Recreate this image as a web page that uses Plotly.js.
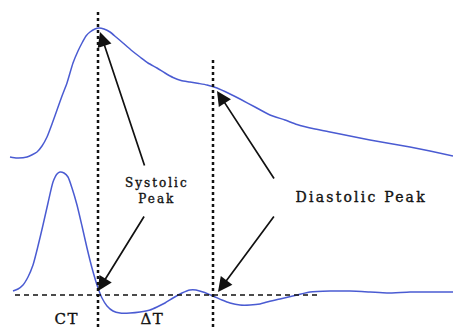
<!DOCTYPE html>
<html>
<head>
<meta charset="utf-8">
<script src="https://cdn.plot.ly/plotly-3.0.1.min.js"></script>
<style>html,body{margin:0;padding:0;background:#fff;}#chart{width:453px;height:328px;}</style>
</head>
<body>
<div id="chart"></div>
<script>
// Pulse waveform (upper) — time vs. screen-down amplitude
const pulseT = [10,17,27,37,42,47,52,57,62,67,73,78,82,86,90,95,99,104,110,116,123,131,140,148,157,165,173,181,190,199,207,217,230,240,255,270,285,297,315,330,350,370,387,410,430,453];
const pulseA = [157,158,157,152,146,137,124,110,96,83,63,51,43,36,32,29,28,29,32,37,43,50,57,63,68,73,77.5,80.5,82,83.5,85,88,94,99,107,115,120,124.5,129,132,136,140,143,147,151,156];
// Derivative waveform (lower)
const derivT = [13,18,23,28,33,38,43,48,53,57,60,64,68,72,77,82,87,92,98,102,107,113,120,130,140,150,157,165,173,182,190,196,203,213,222,230,240,250,260,267,280,297,310,330,350,370,387,410,430,453];
const derivA = [291,289,285,277,265,246,225,203,182,174,172,173,177,188,205,226,248,268,288,298,306,311,313,313,312,310,307,303,298,293,290,290,292,296,300,303,305,305,304,302,299,295,292,291,291,292,293,292,292,292];
const labels = ["Systolic<br>Peak", "Diastolic Peak", "CT", "ΔT"];

const lineStyle = {color: '#4a5bd2', width: 1.5, shape: 'spline', smoothing: 0.6};
const traces = [
  {x: pulseT, y: pulseA, mode: 'lines', line: lineStyle, hoverinfo: 'skip'},
  {x: derivT, y: derivA, mode: 'lines', line: lineStyle, hoverinfo: 'skip'}
];

const serif = {family: 'DejaVu Serif, Liberation Serif, serif', color: '#111'};
function arrow(x, y, ax, ay) {
  return {x: x, y: y, ax: ax, ay: ay, xref: 'x', yref: 'y', axref: 'x', ayref: 'y',
    text: '', showarrow: true, arrowhead: 2, arrowsize: 1.7, arrowwidth: 1.7,
    arrowcolor: '#111', standoff: 0, startstandoff: 0};
}
function label(txt, x, y, size) {
  return {x: x, y: y, xref: 'x', yref: 'y', text: txt, showarrow: false,
    font: Object.assign({size: size}, serif), xanchor: 'center', yanchor: 'middle'};
}

const layout = {
  width: 453, height: 328,
  margin: {l: 0, r: 0, t: 0, b: 0},
  paper_bgcolor: '#fff', plot_bgcolor: '#fff',
  showlegend: false,
  xaxis: {range: [0, 453], visible: false, fixedrange: true},
  yaxis: {range: [328, 0], visible: false, fixedrange: true},
  shapes: [
    {type: 'line', xref: 'x', yref: 'y', x0: 98, x1: 98, y0: 12, y1: 328,
      line: {color: '#111', width: 2.5, dash: '3px,3px'}},
    {type: 'line', xref: 'x', yref: 'y', x0: 213, x1: 213, y0: 60, y1: 328,
      line: {color: '#111', width: 2.5, dash: '3px,3px'}},
    {type: 'line', xref: 'x', yref: 'y', x0: 15, x1: 320, y0: 295, y1: 295,
      line: {color: '#111', width: 1.5, dash: '5px,4px'}}
  ],
  annotations: [
    arrow(100, 32, 145, 167),
    arrow(98, 291, 145, 215),
    arrow(217, 91, 275, 180),
    arrow(218, 292, 275, 215),
    label(labels[0], 157, 191, 12),
    label(labels[1], 361, 197, 14),
    label(labels[2], 66, 319, 15),
    label(labels[3], 152, 319, 15)
  ]
};

Plotly.newPlot('chart', traces, layout, {staticPlot: true, displayModeBar: false}).then(function () {
  document.querySelectorAll('.annotation-text').forEach(function (t) {
    const s = t.textContent;
    let ls = '2px';
    if (s.indexOf('Diastolic') >= 0) ls = '2.2px';
    else if (s === 'CT' || s === 'ΔT') ls = '1.5px';
    t.style.letterSpacing = ls;
    t.style.stroke = '#111';
    t.style.strokeWidth = '0.35px';
  });
});
</script>
</body>
</html>
